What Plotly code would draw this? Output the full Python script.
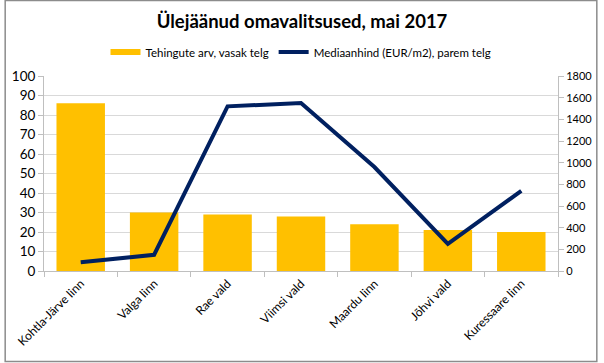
import plotly.graph_objects as go

categories = ["Kohtla-Järve linn", "Valga linn", "Rae vald", "Viimsi vald", "Maardu linn", "Jõhvi vald", "Kuressaare linn"]
tehingud = [86, 30, 29, 28, 24, 21, 20]
mediaan = [80, 150, 1520, 1550, 960, 250, 740]
left_ticks = [0, 10, 20, 30, 40, 50, 60, 70, 80, 90, 100]
right_ticks = [0, 200, 400, 600, 800, 1000, 1200, 1400, 1600, 1800]

font = "Lato, Open Sans, sans-serif"
W, H = 604, 363
L, R, T, B = 40, 41, 76, 92
pw, ph = W - L - R, H - T - B

fig = go.Figure()
fig.add_trace(go.Bar(x=categories, y=tehingud, name="Tehingute arv, vasak telg",
                     marker=dict(color="#FFC000", line=dict(width=0)), yaxis="y",
                     showlegend=False))
# legend entry drawn as a short thick bar, like the original
fig.add_trace(go.Scatter(x=[None], y=[None], name="Tehingute arv, vasak telg",
                         mode="lines", line=dict(color="#FFC000", width=6), yaxis="y"))
fig.add_trace(go.Scatter(x=categories, y=mediaan, name="Mediaanhind (EUR/m2), parem telg",
                         mode="lines", line=dict(color="#002060", width=4), yaxis="y2"))

fig.update_layout(
    width=W, height=H,
    margin=dict(l=L, r=R, t=T, b=B),
    paper_bgcolor="white", plot_bgcolor="white",
    font=dict(family=font, size=12, color="#000000"),
    title=dict(text="<b>Ülejäänud omavalitsused, mai 2017</b>", x=0.5, xanchor="center",
               y=1 - 22 / H, yanchor="middle", font=dict(size=18.5, family=font)),
    legend=dict(orientation="h", x=0.5, xanchor="center", y=1 + (T - 52) / ph, yanchor="middle",
                font=dict(size=11.5), traceorder="normal"),
    bargap=0.34,
    xaxis=dict(tickangle=-45, showline=True, linecolor="#BFBFBF", ticks="outside",
               tickcolor="#BFBFBF", ticklen=5, tickson="boundaries", showgrid=False,
               tickfont=dict(size=12)),
    yaxis=dict(range=[0, 100], tickvals=left_ticks, showgrid=True, gridcolor="#D9D9D9",
               showline=True, linecolor="#BFBFBF", ticks="outside", tickcolor="#BFBFBF",
               ticklen=5, tickfont=dict(size=13.5), zeroline=False),
    yaxis2=dict(range=[0, 1800], tickvals=right_ticks, overlaying="y", side="right",
                showgrid=False, showline=True, linecolor="#BFBFBF", ticks="outside",
                tickcolor="#BFBFBF", ticklen=5, tickfont=dict(size=11), zeroline=False),
    shapes=[dict(type="rect", xref="paper", yref="paper",
                 x0=(-L + 0.5) / pw, x1=1 + (R - 1.5) / pw,
                 y0=-(B - 1.5) / ph, y1=1 + (T - 0.5) / ph,
                 line=dict(color="#8C8C8C", width=1.5))],
)

fig.write_html("out.html", config={"displayModeBar": False},
               post_script="document.body.style.margin='0';document.body.style.overflow='hidden';")
